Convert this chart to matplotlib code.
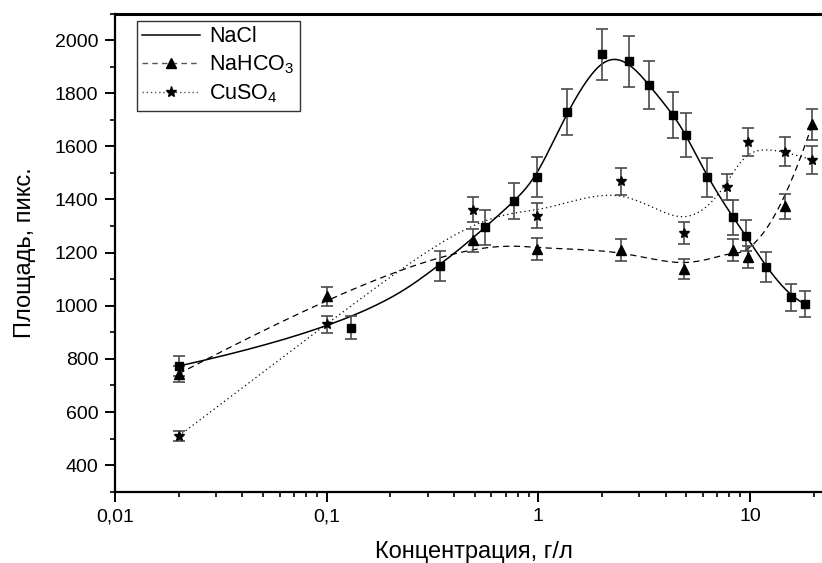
import numpy as np
import matplotlib
matplotlib.use('Agg')
import matplotlib.pyplot as plt
from matplotlib.lines import Line2D
from matplotlib.ticker import FixedLocator, FuncFormatter, LogLocator, NullFormatter, MultipleLocator

plt.rcParams['font.family'] = ['Liberation Sans', 'DejaVu Sans']
plt.rcParams['mathtext.fontset'] = 'custom'
plt.rcParams['mathtext.rm'] = 'Liberation Sans'
plt.rcParams['mathtext.it'] = 'Liberation Sans'

# ---- data ----
nacl_x = [0.02, 0.13, 0.345, 0.56, 0.77, 0.99, 1.36, 2.0, 2.67, 3.34, 4.35, 5.0, 6.3, 8.3, 9.6, 11.9, 15.6, 18.2]
nacl_y = [773, 917, 1149, 1295, 1393, 1485, 1730, 1946, 1921, 1831, 1718, 1642, 1483, 1333, 1263, 1145, 1032, 1007]
nacl_err = [38, 44, 57, 65, 68, 74, 86, 96, 96, 92, 85, 82, 73, 66, 58, 56, 51, 50]

nahco3_x = [0.02, 0.1, 0.49, 0.99, 2.46, 4.9, 8.3, 9.75, 14.6, 19.7]
nahco3_y = [744, 1036, 1246, 1214, 1211, 1139, 1209, 1184, 1374, 1683]
nahco3_err = [30, 36, 44, 41, 41, 38, 42, 41, 48, 58]

cuso4_x = [0.02, 0.1, 0.49, 0.99, 2.46, 4.9, 7.8, 9.8, 14.6, 19.7]
cuso4_y = [510, 930, 1361, 1339, 1468, 1274, 1447, 1616, 1580, 1549]
cuso4_err = [19, 31, 47, 47, 51, 42, 50, 54, 54, 54]

x_ticks = [0.01, 0.1, 1, 10]
x_tick_labels = ['0,01', '0,1', '1', '10']
y_ticks = [400, 600, 800, 1000, 1200, 1400, 1600, 1800, 2000]


def bspline_curve(xs, ys, n=600, k=3):
    """Clamped uniform cubic B-spline using the points as control points (log-x space)."""
    P = np.column_stack([np.log10(xs), ys])
    m = len(P)
    knots = np.concatenate([np.zeros(k), np.linspace(0, 1, m - k + 1), np.ones(k)])
    t = np.linspace(0, 1, n)
    t[-1] -= 1e-10
    N = np.zeros((n, len(knots) - 1))
    for i in range(len(knots) - 1):
        N[:, i] = ((knots[i] <= t) & (t < knots[i + 1])).astype(float)
    for d in range(1, k + 1):
        Nn = np.zeros((n, len(knots) - 1 - d))
        for i in range(len(knots) - 1 - d):
            a = knots[i + d] - knots[i]
            b = knots[i + d + 1] - knots[i + 1]
            term = np.zeros(n)
            if a > 0:
                term += (t - knots[i]) / a * N[:, i]
            if b > 0:
                term += (knots[i + d + 1] - t) / b * N[:, i + 1]
            Nn[:, i] = term
        N = Nn
    C = N @ P
    return 10 ** C[:, 0], C[:, 1]


fig = plt.figure(figsize=(8.22, 5.63), dpi=100)
ax = fig.add_axes([0.1399, 0.1266, 0.8601, 0.8494])

ecol = '#4a4a4a'
series = [
    (nacl_x, nacl_y, nacl_err, '-', 's', 5.5, 1.1),
    (nahco3_x, nahco3_y, nahco3_err, (0, (5, 3.5)), '^', 6.5, 0.9),
    (cuso4_x, cuso4_y, cuso4_err, (0, (1, 2.5)), '*', 7.5, 0.9),
]
for xs, ys, es, ls, mk, ms, lw in series:
    cx, cy = bspline_curve(xs, ys)
    ax.plot(cx, cy, linestyle=ls, color='black', lw=lw, zorder=2)
    ax.errorbar(xs, ys, yerr=es, fmt='none', ecolor=ecol, elinewidth=1.2,
                capsize=4.5, capthick=1.2, zorder=3)
    ax.plot(xs, ys, linestyle='none', marker=mk, ms=ms, color='black', zorder=4)

ax.set_xscale('log')
ax.set_xlim(0.01, 21.9)
ax.set_ylim(300, 2100)

ax.xaxis.set_major_locator(FixedLocator(x_ticks))
ax.xaxis.set_major_formatter(FuncFormatter(lambda v, p: dict(zip(x_ticks, x_tick_labels)).get(v, '')))
ax.xaxis.set_minor_locator(LogLocator(base=10, subs=np.arange(2, 10)))
ax.xaxis.set_minor_formatter(NullFormatter())
ax.yaxis.set_major_locator(FixedLocator(y_ticks))
ax.yaxis.set_minor_locator(MultipleLocator(100))

ax.tick_params(axis='both', which='major', direction='out', length=7, width=1.4,
               labelsize=14, pad=5, color='black')
ax.tick_params(axis='both', which='minor', direction='out', length=3.5, width=1.2)
for s in ['left', 'bottom', 'top']:
    ax.spines[s].set_linewidth(1.6)
ax.spines['top'].set_linewidth(2.2)
ax.spines['right'].set_visible(False)

ax.set_xlabel('Концентрация, г/л', fontsize=17)
ax.set_ylabel('Площадь, пикс.', fontsize=17)
ax.xaxis.set_label_coords(0.508, -0.102)
ax.yaxis.set_label_coords(-0.112, 0.5)

handles = [
    Line2D([], [], color='black', lw=1.1, linestyle='-'),
    Line2D([], [], color='#555555', lw=1.0, linestyle=(0, (4, 3)), marker='^', ms=7, markerfacecolor='black', markeredgecolor='black'),
    Line2D([], [], color='#555555', lw=1.0, linestyle=(0, (1, 2)), marker='*', ms=8, markerfacecolor='black', markeredgecolor='black'),
]
labels = ['NaCl', 'NaHCO$_3$', 'CuSO$_4$']
leg = ax.legend(handles, labels, loc='upper left', bbox_to_anchor=(0.031, 0.985),
                fontsize=15.5, frameon=True, fancybox=False, edgecolor='black',
                handlelength=2.7, handletextpad=0.4, borderpad=0.25, labelspacing=0.3,
                borderaxespad=0)
leg.get_frame().set_linewidth(1.0)

fig.savefig('out.png', dpi=100, facecolor='white')
